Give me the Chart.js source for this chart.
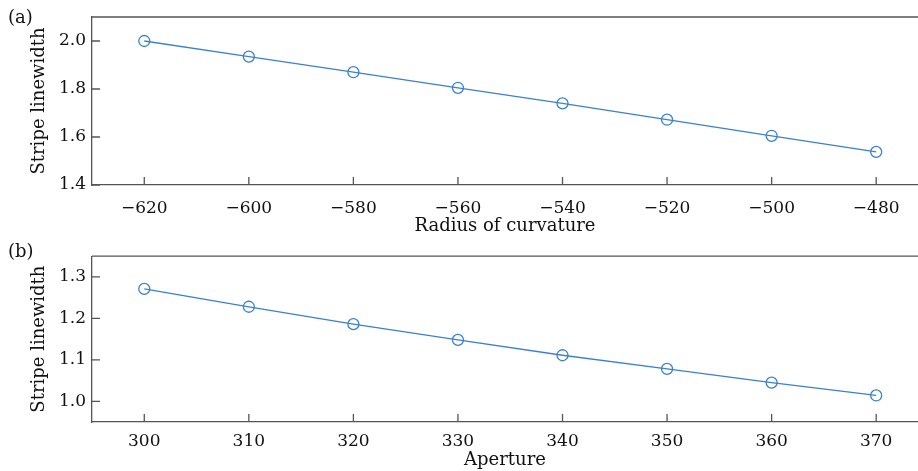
<!DOCTYPE html>
<html>
<head>
<meta charset="utf-8">
<script src="https://cdn.jsdelivr.net/npm/chart.js@4"></script>
<style>
  html, body { margin: 0; padding: 0; background: #fff; }
  #wrap { position: relative; width: 918px; height: 471px; overflow: hidden; }
  #wrap canvas { position: absolute; left: 0; }
  .tag { position: absolute; left: 8px; font: 18px "DejaVu Serif", serif; line-height: 20px; color: #111; }
</style>
</head>
<body>
<div id="wrap">
  <canvas id="chartA" width="918" height="240" style="top:0"></canvas>
  <canvas id="chartB" width="918" height="231" style="top:240px"></canvas>
  <span class="tag" style="top:7px">(a)</span>
  <span class="tag" style="top:241px">(b)</span>
</div>
<script>
// datos
const radius = [-620, -600, -580, -560, -540, -520, -500, -480];
const widthByRadius = [2.00, 1.935, 1.87, 1.805, 1.74, 1.672, 1.605, 1.538];
const yTicksA = [1.4, 1.6, 1.8, 2.0];

const aperture = [300, 310, 320, 330, 340, 350, 360, 370];
const widthByAperture = [1.271, 1.228, 1.186, 1.148, 1.111, 1.078, 1.045, 1.014];
const yTicksB = [1.0, 1.1, 1.2, 1.3];

const FONT = '"DejaVu Serif", serif';
const AXIS = '#555';
const BLUE = '#3a80cf';

// marco superior y ticks hacia dentro
const framePlugin = {
    id: 'frame',
    afterDraw(chart) {
        const { ctx, chartArea: a, scales } = chart;
        ctx.save();
        ctx.strokeStyle = AXIS;
        ctx.lineWidth = 1.3;
        ctx.beginPath();
        ctx.moveTo(a.left, a.top);
        ctx.lineTo(a.right, a.top);
        scales.x.ticks.forEach(t => {
            const px = scales.x.getPixelForValue(t.value);
            ctx.moveTo(px, a.bottom);
            ctx.lineTo(px, a.bottom - 8);
        });
        scales.y.ticks.forEach(t => {
            const py = scales.y.getPixelForValue(t.value);
            ctx.moveTo(a.left, py);
            ctx.lineTo(a.left + 8, py);
        });
        ctx.stroke();
        ctx.restore();
    }
};

function makeChart(id, xs, ys, yTicks, cfg) {
    const ctx = document.getElementById(id).getContext('2d');
    return new Chart(ctx, {
        type: 'line',
        data: {
            datasets: [{
                data: xs.map((x, i) => ({ x: x, y: ys[i] })),
                borderColor: BLUE,
                borderWidth: 1.3,
                backgroundColor: 'rgba(0,0,0,0)',
                pointRadius: 5.5,
                pointBorderWidth: 1.3,
                pointBorderColor: BLUE,
                pointBackgroundColor: 'rgba(0,0,0,0)',
                tension: 0
            }]
        },
        options: {
            responsive: false,
            animation: false,
            layout: { autoPadding: false, padding: { top: cfg.top, right: 0, left: 0, bottom: 0 } },
            plugins: { legend: { display: false }, tooltip: { enabled: false } },
            scales: {
                x: {
                    type: 'linear',
                    min: cfg.xMin,
                    max: cfg.xMax,
                    afterBuildTicks: s => { s.ticks = xs.map(v => ({ value: v })); },
                    afterFit: s => { s.height = cfg.xHeight; },
                    border: { color: AXIS, width: 1.3 },
                    grid: { drawOnChartArea: false, drawTicks: false },
                    ticks: {
                        maxRotation: 0,
                        autoSkip: false,
                        padding: cfg.xPad,
                        color: '#111',
                        font: { family: FONT, size: 17 },
                        callback: v => String(v).replace('-', '\u2212')
                    },
                    title: {
                        display: true,
                        text: cfg.xTitle,
                        color: '#111',
                        font: { family: FONT, size: 18 },
                        padding: { top: 0, bottom: cfg.titlePad }
                    }
                },
                y: {
                    min: cfg.yMin,
                    max: cfg.yMax,
                    afterBuildTicks: s => { s.ticks = yTicks.map(v => ({ value: v })); },
                    afterFit: s => { s.width = 92; },
                    border: { color: AXIS, width: 1.3 },
                    grid: { drawOnChartArea: false, drawTicks: false },
                    ticks: {
                        autoSkip: false,
                        padding: 6,
                        color: '#111',
                        font: { family: FONT, size: 17 },
                        callback: v => v.toFixed(1)
                    },
                    title: {
                        display: true,
                        text: 'Stripe linewidth',
                        color: '#111',
                        font: { family: FONT, size: 18 },
                        padding: { top: 29, bottom: 0 }
                    }
                }
            }
        },
        plugins: [framePlugin]
    });
}

makeChart('chartA', radius, widthByRadius, yTicksA, {
    top: 17, xHeight: 55, xPad: 13, titlePad: 3,
    xMin: -630, xMax: -472,
    yMin: 1.4, yMax: 2.1,
    xTitle: 'Radius of curvature'
});

makeChart('chartB', aperture, widthByAperture, yTicksB, {
    top: 12, xHeight: 49, xPad: 9, titlePad: 0,
    xMin: 295, xMax: 374,
    yMin: 0.95, yMax: 1.35,
    xTitle: 'Aperture'
});
</script>
</body>
</html>
